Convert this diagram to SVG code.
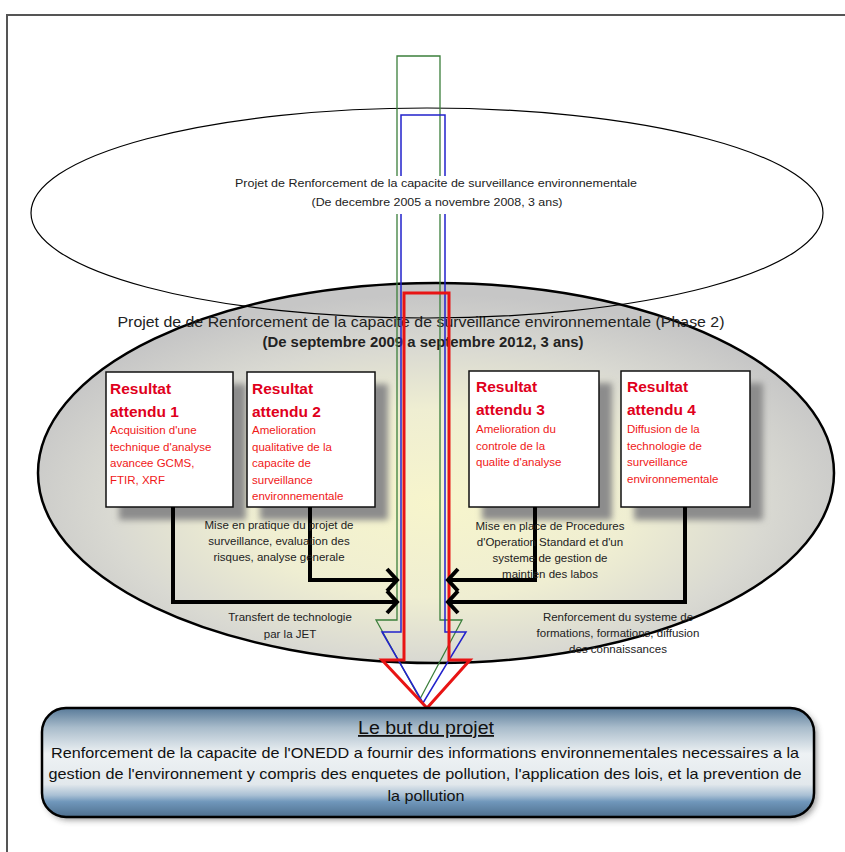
<svg xmlns="http://www.w3.org/2000/svg" width="845" height="852" viewBox="0 0 845 852">
<defs>
<radialGradient id="gEll" cx="0.5" cy="0.58" r="0.55">
<stop offset="0" stop-color="#f7f5cc"/>
<stop offset="0.45" stop-color="#efeed2"/>
<stop offset="0.75" stop-color="#d9d9d2"/>
<stop offset="1" stop-color="#c6c6c6"/>
</radialGradient>
<linearGradient id="gBox" x1="0" y1="0" x2="0" y2="1">
<stop offset="0" stop-color="#587a99"/>
<stop offset="0.18" stop-color="#a9bccb"/>
<stop offset="0.42" stop-color="#eef2f4"/>
<stop offset="0.7" stop-color="#e2e8ec"/>
<stop offset="0.8" stop-color="#a9c0d4"/>
<stop offset="0.86" stop-color="#7097bb"/>
<stop offset="1" stop-color="#4e6f8e"/>
</linearGradient>
<filter id="blur" x="-20%" y="-20%" width="140%" height="140%">
<feGaussianBlur stdDeviation="3"/>
</filter>
<marker id="chev" viewBox="-14 -14 18 28" refX="0" refY="0" markerWidth="18" markerHeight="28" markerUnits="userSpaceOnUse" orient="auto" overflow="visible">
<path d="M-10,-11 L0,0 L-10,11" fill="none" stroke="#000" stroke-width="4"/>
</marker>
<style>
.frame{stroke:#555;stroke-width:2;fill:none}
.box{fill:#fff;stroke:#111;stroke-width:1.5}
.shadow{fill:#8c8c8c;filter:url(#blur)}
.ttl{font-family:"Liberation Sans",Arial,sans-serif;font-weight:bold;font-size:15.5px;fill:#e0001c}
.desc{font-family:"Liberation Sans",Arial,sans-serif;font-size:11.5px;fill:#f01818}
.lbl{font-family:"Liberation Sans",Arial,sans-serif;font-size:11.5px;fill:#222;text-anchor:middle}
.ell{font-family:"Liberation Sans",Arial,sans-serif;fill:#222;text-anchor:middle}
.conn{fill:none;stroke:#000;stroke-width:4;marker-end:url(#chev)}
.goal{font-family:"Liberation Sans",Arial,sans-serif;fill:#111;text-anchor:middle}
</style>
</defs>
<rect width="845" height="852" fill="#fff"/>
<path class="frame" d="M7,852 V15 H845"/>

<g id="phase2">
<ellipse cx="436" cy="473" rx="398" ry="190" fill="url(#gEll)" stroke="#000" stroke-width="2.5"/>
<text class="ell" x="421" y="327" font-size="15" textLength="607" lengthAdjust="spacingAndGlyphs">Projet de de Renforcement de la capacite de surveillance environnementale (Phase 2)</text>
<text class="ell" x="423" y="347" font-size="15" font-weight="bold" textLength="321" lengthAdjust="spacingAndGlyphs">(De septembre 2009 a septembre 2012, 3 ans)</text>
</g>

<g id="phase1">
<ellipse cx="427" cy="213" rx="396" ry="105" fill="none" stroke="#000" stroke-width="1.2"/>
</g>

<g id="arrows">
<path d="M397,56 H440 V620 H462 L420,699 L376,620 H397 Z" fill="none" stroke="#3b7f3b" stroke-width="1.3"/>
<path d="M401,115 H445 V632 H466 L423,703 L382,632 H401 Z" fill="none" stroke="#2222cc" stroke-width="1.5"/>
<path d="M404,293 H449 V660 H470 L427,708 L382,660 H404 Z" fill="none" stroke="#e81414" stroke-width="3"/>
</g>

<g id="phase1-label">
<rect x="232" y="176" width="410" height="38" fill="#fff"/>
<text class="ell" x="436" y="187" font-size="11" textLength="402" lengthAdjust="spacingAndGlyphs">Projet de Renforcement de la capacite de surveillance environnementale</text>
<text class="ell" x="437" y="206" font-size="11" textLength="251" lengthAdjust="spacingAndGlyphs">(De decembre 2005 a novembre 2008, 3 ans)</text>
</g>

<g id="r1">
<rect class="shadow" x="119" y="384" width="127" height="136"/>
<rect class="box" x="106" y="372" width="127" height="135"/>
<text class="ttl" x="110" y="394">Resultat</text>
<text class="ttl" x="110" y="417">attendu 1</text>
<text class="desc" x="110" y="434">Acquisition d'une</text>
<text class="desc" x="110" y="451">technique d'analyse</text>
<text class="desc" x="110" y="467">avancee GCMS,</text>
<text class="desc" x="110" y="484">FTIR, XRF</text>
</g>

<g id="r2">
<rect class="shadow" x="260" y="384" width="128" height="136"/>
<rect class="box" x="247" y="372" width="128" height="135"/>
<text class="ttl" x="252" y="394">Resultat</text>
<text class="ttl" x="252" y="417">attendu 2</text>
<text class="desc" x="252" y="434">Amelioration</text>
<text class="desc" x="252" y="451">qualitative de la</text>
<text class="desc" x="252" y="467">capacite de</text>
<text class="desc" x="252" y="484">surveillance</text>
<text class="desc" x="252" y="500">environnementale</text>
</g>

<g id="r3">
<rect class="shadow" x="482" y="383" width="130" height="137"/>
<rect class="box" x="469" y="371" width="130" height="136"/>
<text class="ttl" x="476" y="392">Resultat</text>
<text class="ttl" x="476" y="415">attendu 3</text>
<text class="desc" x="476" y="433">Amelioration du</text>
<text class="desc" x="476" y="450">controle de la</text>
<text class="desc" x="476" y="466">qualite d'analyse</text>
</g>

<g id="r4">
<rect class="shadow" x="634" y="383" width="129" height="137"/>
<rect class="box" x="621" y="371" width="129" height="136"/>
<text class="ttl" x="627" y="392">Resultat</text>
<text class="ttl" x="627" y="415">attendu 4</text>
<text class="desc" x="627" y="433">Diffusion de la</text>
<text class="desc" x="627" y="450">technologie de</text>
<text class="desc" x="627" y="466">surveillance</text>
<text class="desc" x="627" y="483">environnementale</text>
</g>

<g id="connectors">
<path class="conn" d="M173,507 V602 H397"/>
<path class="conn" d="M310,507 V580 H397"/>
<path class="conn" d="M535,507 V580 H448"/>
<path class="conn" d="M685,507 V602 H448"/>
</g>

<g id="labels">
<text class="lbl" x="279" y="529">Mise en pratique du projet de</text>
<text class="lbl" x="279" y="545">surveillance, evaluation des</text>
<text class="lbl" x="279" y="561">risques, analyse generale</text>
<text class="lbl" x="290" y="621">Transfert de technologie</text>
<text class="lbl" x="290" y="638">par la JET</text>
<text class="lbl" x="550" y="530">Mise en place de Procedures</text>
<text class="lbl" x="550" y="546">d'Operation Standard et d'un</text>
<text class="lbl" x="550" y="562">systeme de gestion de</text>
<text class="lbl" x="550" y="578">maintien des labos</text>
<text class="lbl" x="618" y="621">Renforcement du systeme de</text>
<text class="lbl" x="618" y="637">formations, formations, diffusion</text>
<text class="lbl" x="618" y="653">des connaissances</text>
</g>

<g id="goal">
<rect x="45" y="711" width="772" height="109" rx="24" fill="#333" opacity="0.5" filter="url(#blur)"/>
<rect x="42" y="708" width="772" height="109" rx="24" fill="url(#gBox)" stroke="#000" stroke-width="2.5"/>
<text class="goal" x="426" y="734" font-size="18" text-decoration="underline" textLength="136" lengthAdjust="spacingAndGlyphs">Le but du projet</text>
<text class="goal" x="425" y="758" font-size="15" textLength="748" lengthAdjust="spacingAndGlyphs">Renforcement de la capacite de l'ONEDD a fournir des informations environnementales necessaires a la</text>
<text class="goal" x="425" y="779" font-size="15" textLength="753" lengthAdjust="spacingAndGlyphs">gestion de l'environnement y compris des enquetes de pollution, l'application des lois, et la prevention de</text>
<text class="goal" x="426" y="801" font-size="15" textLength="77" lengthAdjust="spacingAndGlyphs">la pollution</text>
</g>
</svg>
